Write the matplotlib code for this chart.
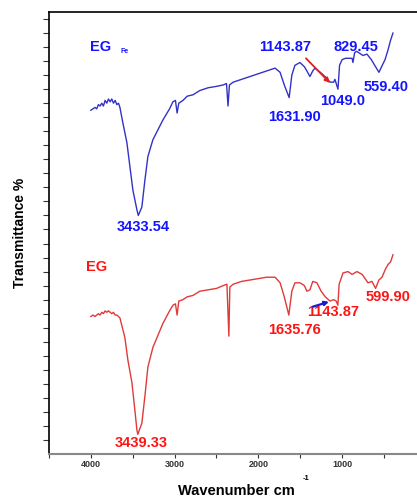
import matplotlib
matplotlib.use("Agg")
import matplotlib.pyplot as plt
import numpy as np

plt.rcParams['font.family'] = ['Liberation Sans', 'DejaVu Sans']

# FTIR spectra: wavenumber (cm^-1) and transmittance (arbitrary, offset traces)
wn_egfe = [4000, 3975, 3950, 3930, 3910, 3890, 3870, 3850, 3830, 3810, 3790, 3770,
           3750, 3730, 3710, 3690, 3670, 3653, 3618, 3570, 3534, 3498, 3450,
           3433.54, 3391, 3355, 3319, 3259, 3140, 3060, 3020, 2990, 2970, 2950,
           2900, 2850, 2780, 2700, 2600, 2500, 2420, 2380, 2362, 2345, 2300, 2200,
           2100, 2000, 1900, 1800, 1740, 1690, 1631.90, 1600, 1563, 1503, 1450,
           1420, 1384, 1350, 1324, 1260, 1204, 1143.87, 1100, 1085, 1049.0, 1030,
           1000, 960, 920, 880, 870, 850, 829.45, 800, 750, 703, 650, 600, 559.40,
           520, 487, 451, 420, 392]
tr_egfe = [24.5, 24.6, 24.7, 24.6, 24.9, 24.8, 25.0, 24.8, 25.2, 25.0, 25.3, 25.1,
           25.3, 25.0, 25.2, 24.9, 25.0, 24.7, 23.6, 22.2, 20.5, 18.8, 17.4,
           17.0, 17.6, 19.5, 21.2, 22.4, 23.8, 24.6, 25.1, 25.2, 24.3, 25.0,
           25.2, 25.5, 25.6, 25.9, 26.1, 26.2, 26.3, 26.4, 24.8, 26.3, 26.5, 26.7,
           26.9, 27.1, 27.3, 27.5, 27.2, 26.3, 25.4, 27.0, 27.7, 27.9, 27.6,
           27.3, 26.9, 27.3, 27.5, 27.2, 26.9, 26.5, 26.5, 26.7, 26.0, 27.7,
           28.1, 28.2, 28.2, 28.2, 27.9, 28.6, 28.7, 28.6, 28.4, 28.5, 28.1, 27.6,
           27.2, 27.7, 28.1, 28.8, 29.5, 30.0]

wn_eg = [4000, 3975, 3950, 3930, 3910, 3890, 3870, 3850, 3830, 3810, 3790, 3770,
         3750, 3730, 3710, 3690, 3670, 3653, 3594, 3558, 3510, 3474, 3450, 3439.33,
         3391, 3355, 3319, 3259, 3140, 3060, 3020, 2990, 2970, 2950, 2900, 2850,
         2780, 2700, 2600, 2500, 2420, 2375, 2352, 2340, 2300, 2200, 2100, 2000,
         1900, 1800, 1740, 1690, 1635.76, 1600, 1563, 1503, 1450, 1420, 1384, 1350,
         1300, 1250, 1200, 1143.87, 1100, 1070, 1050, 1035, 989, 930, 880, 822,
         760, 690, 643, 599.90, 560, 523, 480, 451, 420, 392]
tr_eg = [9.8, 9.9, 9.8, 9.9, 10.0, 9.9, 10.1, 10.0, 10.2, 10.1, 10.2, 10.1,
         10.0, 10.1, 9.9, 9.9, 9.8, 9.7, 8.3, 6.7, 5.1, 3.1, 1.7, 1.4,
         2.2, 4.1, 6.2, 7.6, 9.3, 10.2, 10.6, 10.7, 9.9, 10.9, 11.0, 11.2,
         11.3, 11.6, 11.7, 11.8, 12.0, 12.1, 8.4, 11.9, 12.1, 12.3, 12.4, 12.5,
         12.6, 12.6, 12.2, 11.2, 9.9, 11.6, 12.2, 12.2, 12.0, 11.6, 11.7, 12.3,
         12.2, 11.6, 11.2, 10.9, 11.0, 10.9, 10.6, 12.1, 12.9, 13.0, 12.8, 13.0,
         12.8, 12.2, 12.3, 11.8, 12.4, 12.6, 13.2, 13.5, 13.7, 14.2]

# peak labels: (text, wavenumber, transmittance)
labels_egfe = [("3433.54", 3379, 16.2), ("1631.90", 1563, 24.0),
               ("1143.87", 1682, 29.0), ("829.45", 834, 29.0),
               ("1049.0", 989, 25.15), ("559.40", 476, 26.15)]
labels_eg = [("3439.33", 3403, 0.8), ("1635.76", 1563, 8.85),
             ("1143.87", 1109, 10.1), ("599.90", 452, 11.2)]

BLUE_LINE = "#3232c8"
RED_LINE = "#e03a3a"
BLUE_TXT = "#1414ff"
RED_TXT = "#ff1414"

fig = plt.figure(figsize=(4.17, 5.0), dpi=100)
ax = fig.add_axes([49 / 417, 46 / 500, 368 / 417, 442 / 500])

ax.plot(wn_egfe, tr_egfe, color=BLUE_LINE, lw=1.0)
ax.plot(wn_eg, tr_eg, color=RED_LINE, lw=1.0)

ax.set_xlim(4500, 105)
ax.set_ylim(0, 31.5)

ax.set_xticks([4000, 3000, 2000, 1000])
ax.set_xticks([4500, 3500, 2500, 1500, 500], minor=True)
ax.set_yticks(np.arange(1, 32, 1))
ax.set_yticklabels([])
ax.tick_params(axis='x', which='both', direction='out', length=3, width=0.8,
               labelsize=6.5, pad=1.5, colors='#333333')
for lab in ax.get_xticklabels():
    lab.set_fontweight('bold')
ax.tick_params(axis='y', which='both', direction='out', length=4, width=0.8,
               color='#333333')

ax.spines['right'].set_visible(False)
ax.spines['bottom'].set_color('#888888')
ax.spines['bottom'].set_linewidth(1.5)
ax.spines['top'].set_linewidth(1.2)
ax.spines['left'].set_linewidth(1.2)

kw = dict(fontsize=10.5, fontweight='bold', ha='center', va='center')
for txt, x, y in labels_egfe:
    ax.text(x, y, txt, color=BLUE_TXT, **kw)
for txt, x, y in labels_eg:
    ax.text(x, y, txt, color=RED_TXT, **kw)

# sample names
ax.text(3881, 29.0, "EG", color=BLUE_TXT, fontsize=10.5, fontweight='bold',
        ha='center', va='center')
ax.text(3594, 28.65, "Fe", color=BLUE_TXT, fontsize=5, fontweight='bold',
        ha='center', va='center')
ax.text(3928, 13.35, "EG", color=RED_TXT, fontsize=10.5, fontweight='bold',
        ha='center', va='center')

# arrows pointing at the 1143.87 shoulders
ax.annotate("", xy=(1145, 26.45), xytext=(1431, 28.2),
            arrowprops=dict(arrowstyle="-|>", color="#e02020", lw=1.3,
                            mutation_scale=7, shrinkA=0, shrinkB=0))
ax.annotate("", xy=(1156, 10.85), xytext=(1348, 10.5),
            arrowprops=dict(arrowstyle="-|>", color="#1a1ad0", lw=1.6,
                            mutation_scale=6, shrinkA=0, shrinkB=0))

fig.text(20 / 417, 1 - 233 / 500, "Transmittance %", rotation=90, fontsize=10,
         fontweight='bold', ha='center', va='center')
fig.text(236 / 417, 1 - 491 / 500, "Wavenumber cm", fontsize=10.5,
         fontweight='bold', ha='center', va='center')
fig.text(306 / 417, 1 - 479 / 500, "-1", fontsize=5.5, fontweight='bold',
         ha='center', va='center')

fig.savefig("out.png", dpi=100)
